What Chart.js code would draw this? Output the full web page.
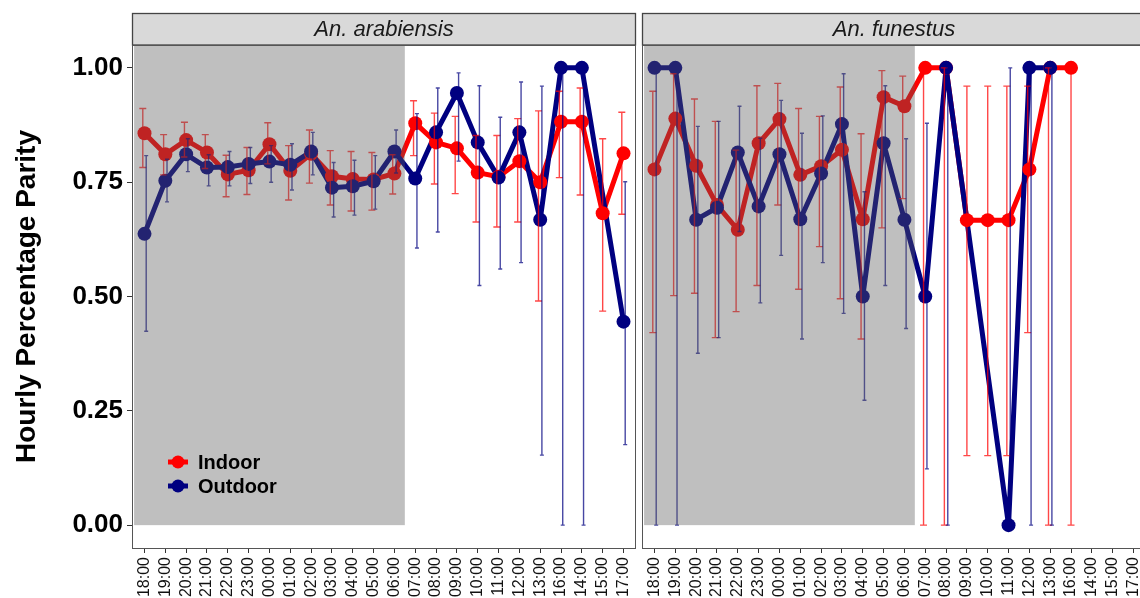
<!DOCTYPE html>
<html>
<head>
<meta charset="utf-8">
<script src="https://cdn.jsdelivr.net/npm/chart.js@4.4.1/dist/chart.umd.min.js"></script>
<style>
  html, body { margin: 0; padding: 0; background: #fff; overflow: hidden; width: 1140px; height: 598px; }
  #wrap { position: relative; width: 1140px; height: 598px; overflow: hidden; }
  #wrap canvas { position: absolute; top: 0; }
</style>
</head>
<body>
<div id="wrap">
  <canvas id="panelA" width="640" height="598" style="left:0px"></canvas>
  <canvas id="panelB" width="512" height="598" style="left:638px"></canvas>
</div>
<script>
// Collection hours, in the order they appear on the axis
const hours = ['18:00','19:00','20:00','21:00','22:00','23:00','00:00','01:00','02:00','03:00','04:00','05:00',
               '06:00','07:00','08:00','09:00','10:00','11:00','12:00','13:00','16:00','14:00','15:00','17:00'];
const yTickValues = [0, 0.25, 0.5, 0.75, 1];
const speciesNames = ['An. arabiensis', 'An. funestus'];
const groupNames = ['Indoor', 'Outdoor'];
// night hours (shaded): first and last hour of the dark period
const nightHours = ['18:00', '06:00'];

// An. arabiensis — indoor parity with 95% CI
const arabIndoor     = [0.857,0.811,0.842,0.815,0.767,0.776,0.833,0.775,0.812,0.763,0.757,0.756,
                        0.769,0.879,0.837,0.824,0.771,0.762,0.796,0.750,0.882,0.882,0.682,0.813];
const arabIndoorLow  = [0.782,0.766,0.805,0.780,0.718,0.723,0.790,0.711,0.748,0.700,0.687,0.689,
                        0.724,0.808,0.746,0.725,0.663,0.652,0.663,0.490,0.760,0.722,0.468,0.680];
const arabIndoorHigh = [0.911,0.854,0.881,0.854,0.809,0.826,0.880,0.830,0.864,0.819,0.817,0.815,
                        0.810,0.928,0.901,0.894,0.852,0.852,0.889,0.906,0.949,0.956,0.845,0.903];
// An. arabiensis — outdoor
const arabOutdoor     = [0.637,0.753,0.811,0.782,0.783,0.790,0.795,0.788,0.817,0.738,0.741,0.752,
                         0.817,0.758,0.859,0.945,0.837,0.760,0.859,0.668,1.000,1.000,null,0.445];
const arabOutdoorLow  = [0.424,0.707,0.773,0.742,0.742,0.747,0.750,0.733,0.766,0.674,0.678,0.691,
                         0.770,0.606,0.641,0.796,0.524,0.560,0.574,0.153,0.000,0.000,null,0.176];
const arabOutdoorHigh = [0.808,0.800,0.845,0.810,0.817,0.826,0.830,0.834,0.859,0.793,0.798,0.808,
                         0.864,0.900,0.956,0.989,0.961,0.892,0.969,0.960,1.000,1.000,null,0.751];

// An. funestus — indoor
const funIndoor     = [0.778,0.889,0.786,0.700,0.646,0.835,0.888,0.766,0.785,0.821,0.669,0.936,
                       0.916,1.000,1.000,0.667,0.667,0.667,0.778,1.000,1.000,null,null,null];
const funIndoorLow  = [0.421,0.502,0.507,0.410,0.467,0.524,0.700,0.516,0.609,0.495,0.407,0.650,
                       0.714,0.000,0.000,0.152,0.152,0.152,0.421,0.000,0.000,null,null,null];
const funIndoorHigh = [0.949,0.987,0.932,0.883,0.820,0.961,0.966,0.911,0.894,0.958,0.856,0.994,
                       0.982,1.000,1.000,0.960,0.960,0.960,0.960,1.000,1.000,null,null,null];
// An. funestus — outdoor
const funOutdoor     = [1.000,1.000,0.668,0.694,0.815,0.697,0.811,0.669,0.769,0.877,0.500,0.835,
                        0.668,0.500,1.000,null,null,0.000,1.000,1.000,null,null,null,null];
const funOutdoorLow  = [0.000,0.000,0.376,0.410,0.642,0.486,0.590,0.407,0.574,0.463,0.273,0.524,
                        0.430,0.123,0.000,null,null,0.000,0.000,0.000,null,null,null,null];
const funOutdoorHigh = [1.000,1.000,0.872,0.883,0.916,0.846,0.929,0.857,0.895,0.987,0.729,0.961,
                        0.845,0.879,1.000,null,null,1.000,1.000,1.000,null,null,null,null];

const INDOOR = '#FF0000';
const OUTDOOR = '#000080';
const FONT = '"Liberation Sans", Arial, Helvetica, sans-serif';
Chart.defaults.font.family = FONT;
Chart.defaults.animation = false;

const toPoints = vals => vals.map((v, i) => ({ x: i, y: v }));

// vertical CI whiskers, dodged sideways when both groups have a bar at the same hour
function errorBarPlugin(groups) {
  return {
    id: 'errorBars',
    afterDatasetsDraw(chart) {
      const { ctx, scales: { x, y } } = chart;
      ctx.save();
      groups.forEach((g, gi) => {
        g.low.forEach((lo, i) => {
          const hi = g.high[i];
          if (lo == null || hi == null) return;
          const both = groups.every(o => o.low[i] != null);
          const dx = both ? (gi === 0 ? -1.7 : 1.7) : 0;
          const px = x.getPixelForValue(i) + dx;
          const y1 = y.getPixelForValue(lo), y2 = y.getPixelForValue(hi);
          ctx.strokeStyle = g.color;
          ctx.lineWidth = 1.4;
          ctx.beginPath();
          ctx.moveTo(px, y1); ctx.lineTo(px, y2);
          ctx.moveTo(px - g.cap, y1); ctx.lineTo(px + g.cap, y1);
          ctx.moveTo(px - g.cap, y2); ctx.lineTo(px + g.cap, y2);
          ctx.stroke();
        });
      });
      ctx.restore();
    }
  };
}

// translucent grey band over the night hours, from 0 up to the panel top
const nightShade = {
  id: 'nightShade',
  afterDatasetsDraw(chart) {
    const { ctx, chartArea, scales: { x, y } } = chart;
    const a = hours.indexOf(nightHours[0]) - 0.5;
    const b = hours.indexOf(nightHours[1]) + 0.5;
    const x1 = x.getPixelForValue(a), x2 = x.getPixelForValue(b);
    const y0 = y.getPixelForValue(0);
    ctx.save();
    ctx.fillStyle = 'rgba(89,89,89,0.39)';
    ctx.fillRect(x1, chartArea.top, x2 - x1, y0 - chartArea.top);
    ctx.restore();
  }
};

// facet strip above the panel and the panel border
function framePlugin(label) {
  return {
    id: 'frame',
    afterDraw(chart) {
      const { ctx, chartArea: ca } = chart;
      ctx.save();
      const stripTop = 13.5;
      ctx.fillStyle = '#D9D9D9';
      ctx.fillRect(ca.left, stripTop, ca.right - ca.left, ca.top - stripTop);
      ctx.strokeStyle = '#444';
      ctx.lineWidth = 1.3;
      ctx.strokeRect(Math.round(ca.left) + 0.5, stripTop, Math.round(ca.right - ca.left) - 1, ca.top - stripTop);
      ctx.strokeStyle = '#555';
      ctx.lineWidth = 1;
      ctx.strokeRect(Math.round(ca.left) + 0.5, Math.round(ca.top) + 0.5, Math.round(ca.right - ca.left) - 1, Math.round(ca.bottom - ca.top));
      ctx.fillStyle = '#1A1A1A';
      ctx.font = 'italic 22px ' + FONT;
      ctx.textAlign = 'center';
      ctx.textBaseline = 'middle';
      ctx.fillText(label, (ca.left + ca.right) / 2, (stripTop + ca.top) / 2 + 1);
      ctx.restore();
    }
  };
}

// key inside the lower-left corner of the first panel
const keyLegend = {
  id: 'keyLegend',
  afterDraw(chart) {
    const { ctx, chartArea: ca } = chart;
    const entries = chart.data.datasets.filter(d => d.showInKey);
    ctx.save();
    entries.forEach((d, k) => {
      const cy = ca.bottom - 86 + k * 24;
      const cx = ca.left + 46;
      ctx.strokeStyle = d.borderColor;
      ctx.lineWidth = 5;
      ctx.beginPath(); ctx.moveTo(cx - 10, cy); ctx.lineTo(cx + 10, cy); ctx.stroke();
      ctx.fillStyle = d.borderColor;
      ctx.beginPath(); ctx.arc(cx, cy, 6.5, 0, Math.PI * 2); ctx.fill();
      ctx.fillStyle = '#000';
      ctx.font = 'bold 20px ' + FONT;
      ctx.textAlign = 'left';
      ctx.textBaseline = 'middle';
      ctx.fillText(d.label, cx + 20, cy + 1);
    });
    ctx.restore();
  }
};

function buildPanel(canvasId, title, indoor, outdoor, bars, first) {
  const lineDefaults = { pointRadius: 0, borderWidth: 5, spanGaps: true, borderJoinStyle: 'round', tension: 0 };
  const pointDefaults = { showLine: false, pointRadius: 7, pointHoverRadius: 7, pointBorderWidth: 0 };
  const plugins = [errorBarPlugin(bars), nightShade, framePlugin(title)];
  if (first) plugins.push(keyLegend);
  return new Chart(document.getElementById(canvasId), {
    type: 'line',
    data: {
      datasets: [
        Object.assign({ label: groupNames[0], data: toPoints(indoor), borderColor: INDOOR, backgroundColor: INDOOR, order: 4, showInKey: true }, lineDefaults),
        Object.assign({ label: groupNames[1], data: toPoints(outdoor), borderColor: OUTDOOR, backgroundColor: OUTDOOR, order: 3, showInKey: true }, lineDefaults),
        Object.assign({ label: groupNames[0], data: toPoints(indoor), borderColor: INDOOR, backgroundColor: INDOOR, order: 2 }, pointDefaults),
        Object.assign({ label: groupNames[1], data: toPoints(outdoor), borderColor: OUTDOOR, backgroundColor: OUTDOOR, order: 1 }, pointDefaults)
      ]
    },
    options: {
      responsive: false,
      devicePixelRatio: 1,
      layout: {
        autoPadding: false,
        padding: first ? { top: 45, left: 0, right: 4, bottom: 0 } : { top: 45, left: 4, right: 4, bottom: 0 }
      },
      plugins: { legend: { display: false }, tooltip: { enabled: false } },
      scales: {
        x: {
          type: 'linear', min: -0.6, max: hours.length - 0.4,
          afterBuildTicks: s => { s.ticks = hours.map((h, i) => ({ value: i })); },
          afterFit: s => { s.height = 50; s.paddingLeft = 0; s.paddingRight = 0; },
          grid: { drawOnChartArea: false, drawTicks: true, tickLength: 5, color: '#333', lineWidth: 1 },
          border: { display: false },
          ticks: {
            autoSkip: false, minRotation: 90, maxRotation: 90, padding: 4,
            color: '#111', font: { size: 16 },
            callback: v => hours[v]
          }
        },
        y: {
          type: 'linear', min: -0.05, max: 1.05, display: first,
          afterBuildTicks: s => { s.ticks = yTickValues.map(v => ({ value: v })); },
          afterFit: s => { s.width = first ? 132 : 0; s.paddingTop = 0; s.paddingBottom = 0; },
          grid: { drawOnChartArea: false, drawTicks: true, tickLength: 5, color: '#333', lineWidth: 1 },
          border: { display: false },
          ticks: { padding: 4, color: '#000', font: { size: 26, weight: 'bold' }, callback: v => v.toFixed(2) },
          title: { display: true, text: 'Hourly Percentage Parity', color: '#000', font: { size: 28, weight: 'bold' }, padding: { top: 10, bottom: 0 } }
        }
      }
    },
    plugins
  });
}

buildPanel('panelA', speciesNames[0], arabIndoor, arabOutdoor, [
  { low: arabIndoorLow, high: arabIndoorHigh, color: 'rgba(255,0,0,0.72)', cap: 3.5 },
  { low: arabOutdoorLow, high: arabOutdoorHigh, color: 'rgba(0,0,128,0.72)', cap: 2 }
], true);

buildPanel('panelB', speciesNames[1], funIndoor, funOutdoor, [
  { low: funIndoorLow, high: funIndoorHigh, color: 'rgba(255,0,0,0.72)', cap: 3.5 },
  { low: funOutdoorLow, high: funOutdoorHigh, color: 'rgba(0,0,128,0.72)', cap: 2 }
], false);
</script>
</body>
</html>
